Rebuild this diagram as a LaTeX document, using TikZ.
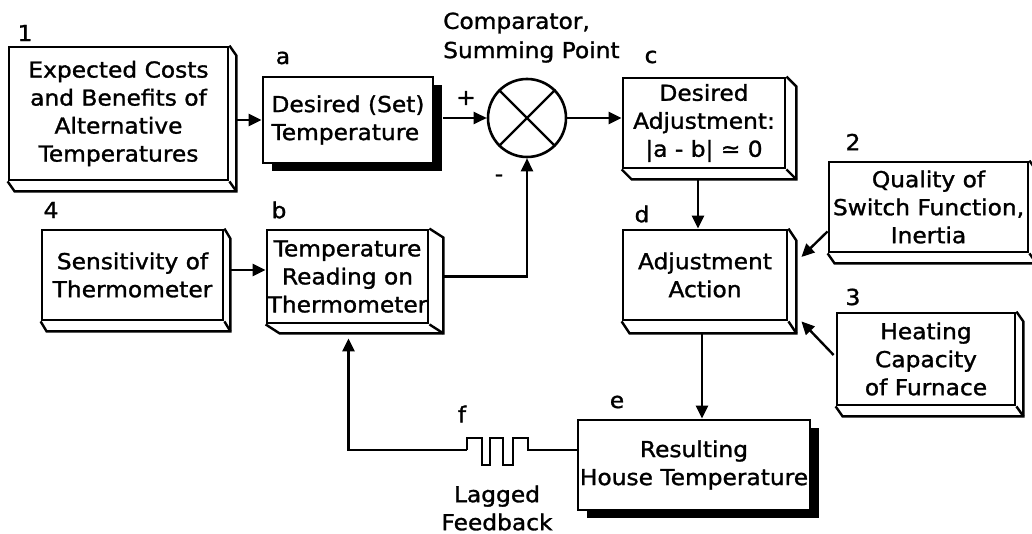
\documentclass[tikz,border=0pt]{standalone}
\usepackage{fontspec}
\setmainfont[FakeBold=1.3,FakeStretch=1.06]{DejaVu Sans}
\usetikzlibrary{calc,arrows.meta,shadows}
\newcommand\extr[3]{%
  \draw[line width=2.4pt] (#1.north east) -- ++(#2,#3) -- ($(#1.south east)+(#2,#3)$) -- ($(#1.south west)+(#2,#3)$) -- (#1.south west);
  \draw[line width=2.4pt] (#1.south east) -- ++(#2,#3);}
\begin{document}
\begin{tikzpicture}[x=1pt,y=-1pt,
  txt/.style={font=\fontsize{22}{28}\selectfont, align=center},
  bx/.style={draw, line width=2.8pt, inner sep=0pt, txt},
  shbox/.style={bx, fill=white, drop shadow={shadow xshift=9pt, shadow yshift=-8pt, fill=black, opacity=1}},
  arr/.style={line width=2.4pt, -{Triangle[length=13pt,width=12pt]}},
  ln/.style={line width=2.4pt},
  lbl/.style={font=\fontsize{22}{26}\selectfont, inner sep=0pt}]
\useasboundingbox (0,0) rectangle (1032,534);
\fill[white] (0,0) rectangle (1032,534);

% boxes
\node[bx, minimum width=219, minimum height=133] (n1) at (118.5,113.5) {Expected Costs\\and Benefits of\\Alternative\\Temperatures};
\extr{n1}{7}{10}
\node[shbox, minimum width=170, minimum height=86, align=left] (na) at (348,120) {Desired (Set)\\Temperature};
\node[draw, circle, line width=2.6pt, minimum size=78, inner sep=0pt] (sum) at (527,118) {};
\draw[line width=2.4pt] (sum.north west) -- (sum.south east) (sum.north east) -- (sum.south west);
\node[bx, minimum width=162, minimum height=90] (nc) at (704,123) {Desired\\Adjustment:\\{\char"007C}a - b{\char"007C} ≃ 0};
\extr{nc}{10}{10}
\node[bx, minimum width=164, minimum height=90] (nd) at (705,275) {Adjustment\\Action};
\extr{nd}{8}{12}
\node[bx, minimum width=199, minimum height=90] (n2) at (928.5,207) {Quality of\\Switch Function,\\Inertia};
\extr{n2}{7}{10}
\node[bx, minimum width=178, minimum height=92] (n3) at (926,359) {Heating\\Capacity\\of Furnace};
\extr{n3}{7}{10}
\node[bx, minimum width=181, minimum height=90] (n4) at (132.5,275) {Sensitivity of\\Thermometer};
\extr{n4}{6}{10}
\node[bx, minimum width=161, minimum height=93] (nb) at (347.5,276.5) {Temperature\\Reading on\\Thermometer};
\extr{nb}{14}{9}
\node[shbox, minimum width=232, minimum height=90] (ne) at (694,465) {Resulting\\House Temperature};

% labels
\node[lbl] at (25,33) {1};
\node[lbl] at (283,58) {a};
\node[lbl] at (651,57) {c};
\node[lbl] at (853,142) {2};
\node[lbl] at (642,214) {d};
\node[lbl] at (853,297) {3};
\node[lbl] at (51,210) {4};
\node[lbl] at (279,210) {b};
\node[lbl] at (617,402) {e};
\node[lbl] at (462,414) {f};
\node[lbl] at (466,98) {+};
\node[lbl] at (499,178) {-};
\node[lbl, anchor=west] at (443,23) {Comparator,};
\node[lbl, anchor=west] at (443,52) {Summing Point};
\node[txt, inner sep=0pt] at (497,508) {Lagged\\Feedback};

% helper coordinates
\coordinate (cbot) at ($(nc.south)+(-6,10)$);
\coordinate (dtop) at ($(nd.north)+(-7,0)$);
\coordinate (twoS) at ($(n2.south west)+(0,-22)$);
\coordinate (twoE) at ($(nd.east)+(13,-18)$);
\coordinate (thrS) at ($(n3.west)+(-2,-4)$);
\coordinate (thrE) at ($(nd.south east)+(13,0)$);
\coordinate (dbot) at ($(nd.south)+(-3,12)$);
\coordinate (fourE) at ($(n4.east)+(6,-5)$);
\coordinate (bE) at ($(nb.east)+(14,0)$);
\coordinate (eW) at ($(ne.west)+(0,-15)$);
\coordinate (bS) at ($(nb.south)+(1,14)$);
\coordinate (lagR) at (528,450);
\coordinate (lagL) at (467,450);

% connectors
\draw[arr] ([xshift=7pt]n1.east |- na.west) -- (na.west);
\draw[arr] ([xshift=9pt]na.east |- sum.west) -- (sum.west);
\draw[arr] (sum.east) -- (sum.east -| nc.west);
\draw[arr] (cbot) -- (dtop);
\draw[arr] (twoS) -- (twoE);
\draw[arr] (thrS) -- (thrE);
\draw[arr] (dbot) -- (dbot |- ne.north);
\draw[arr] (fourE) -- (fourE -| nb.west);
\draw[arr] (bE) -| (sum.south);
\draw[ln] (eW) -- (lagR) -- (528,438) -- (513,438) -- (513,465) -- (503,465) -- (503,438) -- (490,438) -- (490,465) -- (482,465) -- (482,438) -- (467,438) -- (lagL);
\draw[arr] (lagL) -| (bS);
\end{tikzpicture}
\end{document}
